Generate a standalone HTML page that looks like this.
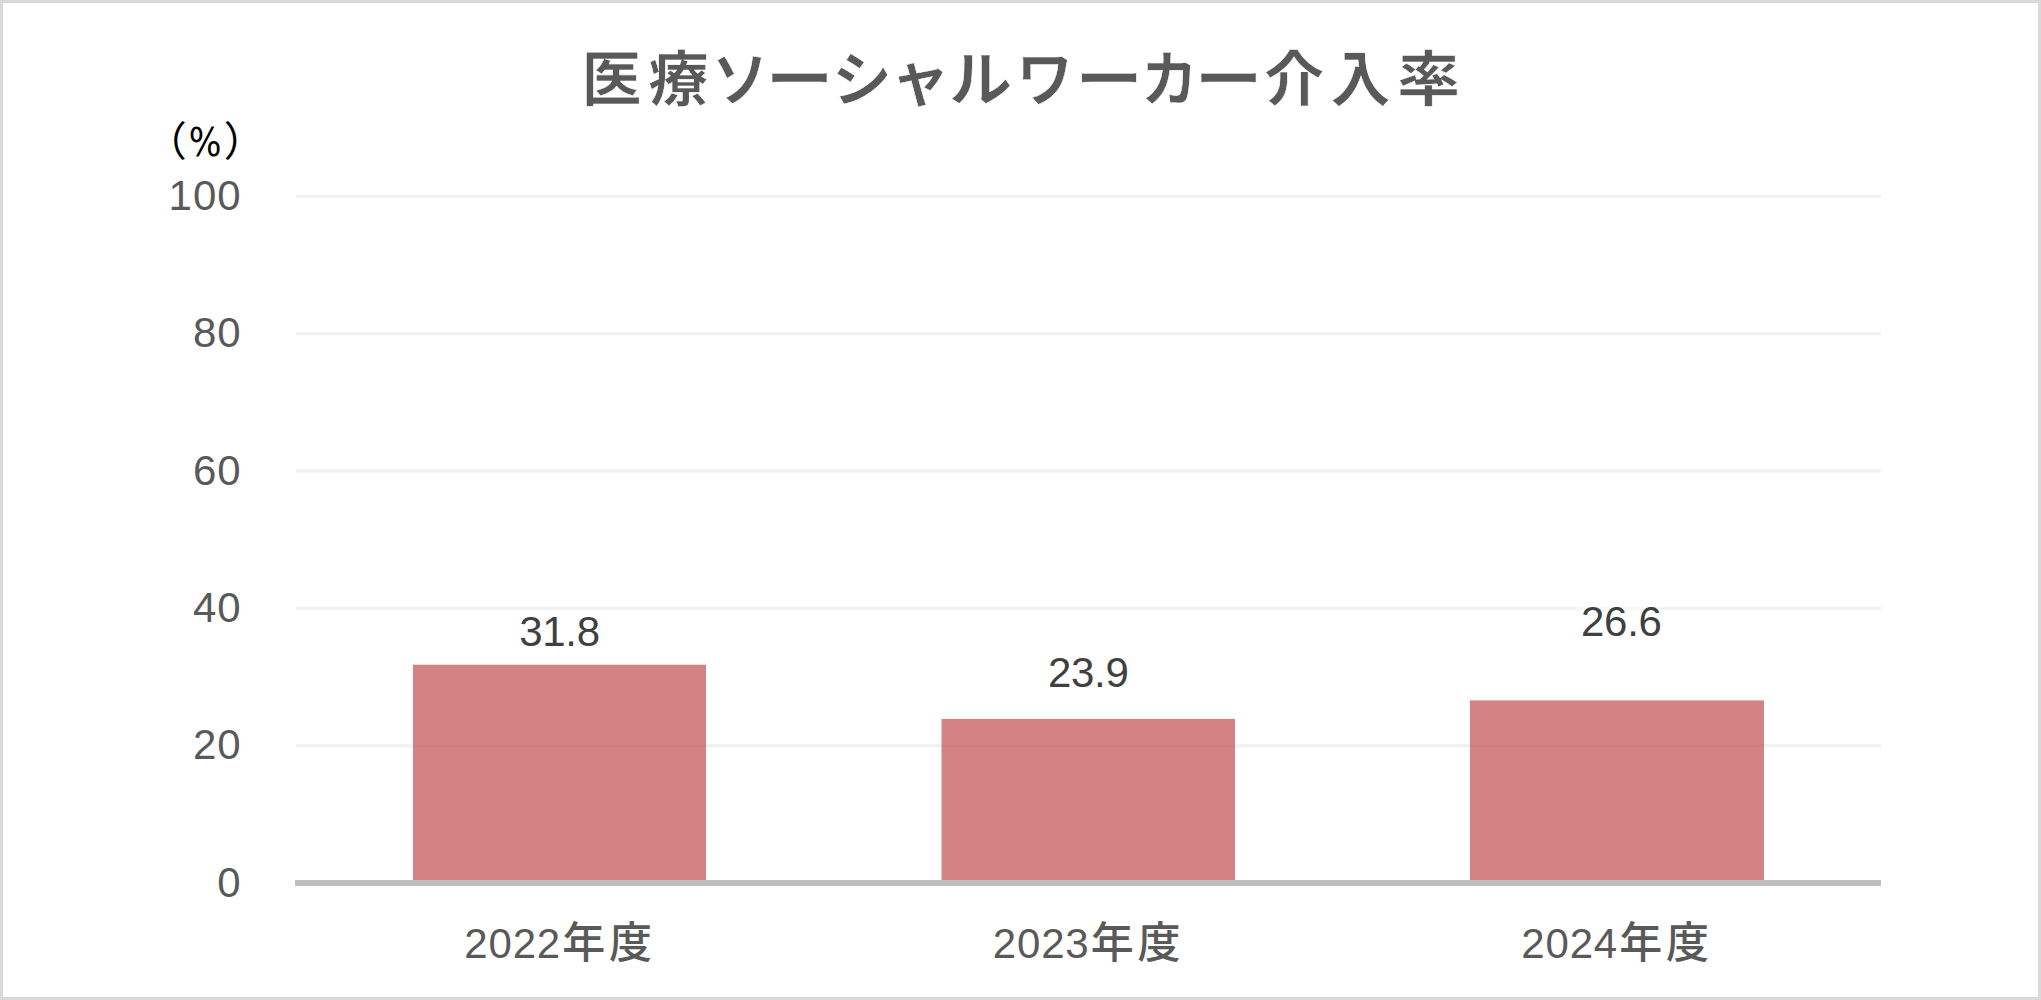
<!DOCTYPE html>
<html lang="ja"><head><meta charset="utf-8"><title>医療ソーシャルワーカー介入率</title>
<style>
html,body{margin:0;padding:0;background:#fff;}
body{width:2041px;height:1000px;overflow:hidden;}
svg{display:block;}
text{font-family:"Liberation Sans","Noto Sans CJK JP",sans-serif;}
.title{font-weight:bold;font-size:60px;fill:#595959;stroke:#ffffff;stroke-width:0.6px;paint-order:fill stroke;}
.tick{font-size:42px;fill:#595959;letter-spacing:1px;}
.cat{font-size:42px;fill:#595959;}
.cat .k{font-size:43px;font-weight:500;}
.val{font-size:42px;fill:#404040;letter-spacing:-0.3px;}
.unit{font-size:41px;fill:#000;}
.unit .p{font-family:"DejaVu Sans Condensed","Liberation Sans",sans-serif;font-size:38.25px;}
</style></head><body>
<svg width="2041" height="1000" viewBox="0 0 2041 1000">
<rect x="0" y="0" width="2041" height="1000" fill="#ffffff"/>
<rect x="1.5" y="1.5" width="2038" height="997" fill="none" stroke="#d9d9d9" stroke-width="3"/>
<rect x="296" y="744.2" width="1585" height="3" fill="#f0f0f0"/>
<rect x="296" y="606.9" width="1585" height="3" fill="#f0f0f0"/>
<rect x="296" y="469.6" width="1585" height="3" fill="#f0f0f0"/>
<rect x="296" y="332.3" width="1585" height="3" fill="#f0f0f0"/>
<rect x="296" y="195.0" width="1585" height="3" fill="#f0f0f0"/>
<rect x="413" y="664.7" width="293" height="215.3" fill="#c04e4f" fill-opacity="0.7"/>
<rect x="941.5" y="718.9" width="293.5" height="161.1" fill="#c04e4f" fill-opacity="0.7"/>
<rect x="1470" y="700.4" width="294" height="179.6" fill="#c04e4f" fill-opacity="0.7"/>
<rect x="295" y="880" width="1586" height="6" fill="#bfbfbf"/>
<rect x="1576" y="600.5" width="87" height="40" fill="#ffffff" fill-opacity="0.5"/>
<text class="title" y="101.2"><tspan x="581.5">医</tspan><tspan x="648.6">療</tspan><tspan x="712.1" textLength="56.3" lengthAdjust="spacingAndGlyphs">ソ</tspan><tspan x="765.7" textLength="67.6" lengthAdjust="spacingAndGlyphs">ー</tspan><tspan x="832.0">シ</tspan><tspan x="890.2">ャ</tspan><tspan x="949.0" textLength="63.2" lengthAdjust="spacingAndGlyphs">ル</tspan><tspan x="1016.6" textLength="56.6" lengthAdjust="spacingAndGlyphs">ワ</tspan><tspan x="1075.5" textLength="67.3" lengthAdjust="spacingAndGlyphs">ー</tspan><tspan x="1140.7" textLength="57.2" lengthAdjust="spacingAndGlyphs">カ</tspan><tspan x="1194.8" textLength="67.7" lengthAdjust="spacingAndGlyphs">ー</tspan><tspan x="1264.2">介</tspan><tspan x="1330.6">入</tspan><tspan x="1396.9" textLength="63.1" lengthAdjust="spacingAndGlyphs">率</tspan></text>
<text class="unit" y="155.7"><tspan x="145.7">（</tspan><tspan class="p" x="188.7" y="156">%</tspan><tspan x="223.7" y="155.7">）</tspan></text>
<text class="tick" x="241.7" y="896.6" text-anchor="end">0</text>
<text class="tick" x="241.7" y="759.3" text-anchor="end">20</text>
<text class="tick" x="241.7" y="622.0" text-anchor="end">40</text>
<text class="tick" x="241.7" y="484.7" text-anchor="end">60</text>
<text class="tick" x="241.7" y="347.4" text-anchor="end">80</text>
<text class="tick" x="241.7" y="210.1" text-anchor="end">100</text>
<text class="val" x="559.5" y="646.2" text-anchor="middle">31.8</text>
<text class="cat" y="958.2"><tspan x="464.35 488.50 512.65 536.80">2022</tspan><tspan class="k" x="562.20 609.05">年度</tspan></text>
<text class="val" x="1088.2" y="686.5" text-anchor="middle">23.9</text>
<text class="cat" y="958.2"><tspan x="992.85 1017.00 1041.15 1065.30">2023</tspan><tspan class="k" x="1090.70 1137.55">年度</tspan></text>
<text class="val" x="1621.3" y="636.0" text-anchor="middle">26.6</text>
<text class="cat" y="958.2"><tspan x="1521.35 1545.50 1569.65 1593.80">2024</tspan><tspan class="k" x="1619.20 1666.05">年度</tspan></text>
</svg>
</body></html>
